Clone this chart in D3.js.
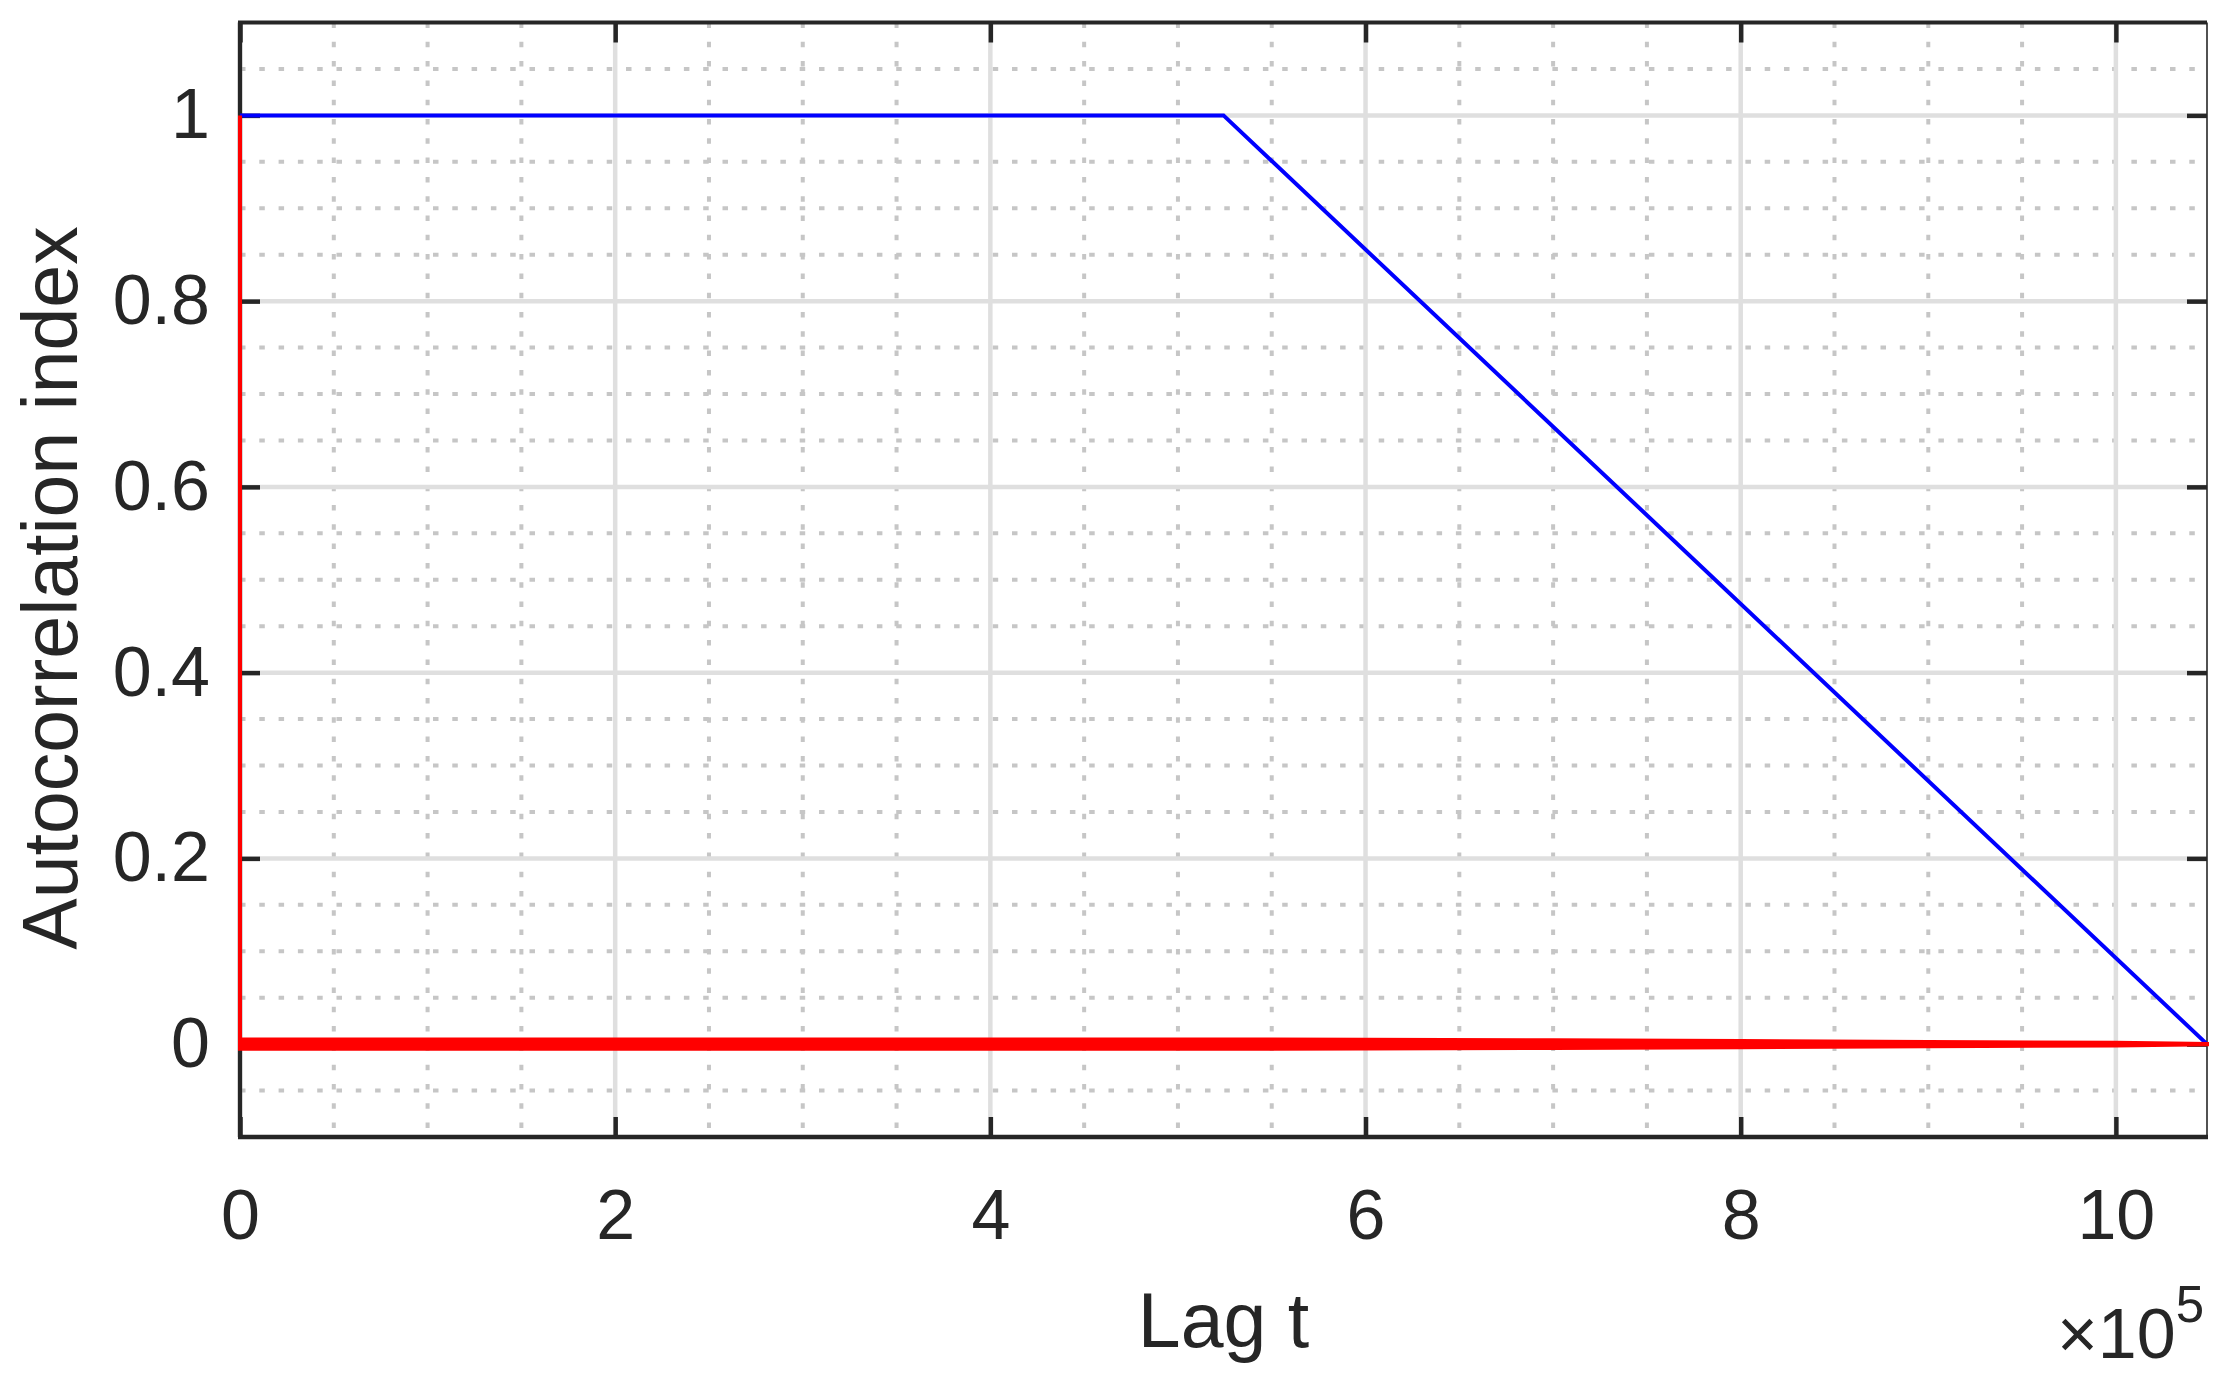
<!DOCTYPE html>
<html>
<head>
<meta charset="utf-8">
<script src="https://cdn.jsdelivr.net/npm/d3@7"></script>
<style>
  body { margin: 0; background: #fff; }
  text { font-family: "Liberation Sans", Arial, sans-serif; fill: #262626; }
</style>
</head>
<body>
<svg id="chart" width="2228" height="1377"></svg>
<script>
// Blue series: flat at 1 then straight fall to 0
var blueLag = [0, 524288, 1048576];
var blueAcf = [1, 1, 0];

// Red series: spike at lag 0, then noise around zero
var redSpikeLag = [0, 0, 3000];
var redSpikeAcf = [1, 0, 0];

// envelope of the red noise band
var noiseLag = [0, 100000, 200000, 300000, 400000, 500000, 600000, 700000, 800000, 900000, 1000000, 1048576];
var noiseHi = [0.005, 0.005, 0.005, 0.005, 0.005, 0.005, 0.0048, 0.0042, 0.0034, 0.0024, 0.0014, 0.0002];
var noiseLo = [-0.005, -0.005, -0.005, -0.005, -0.005, -0.005, -0.0048, -0.0042, -0.0034, -0.0024, -0.0014, -0.0002];

// tick labels
var xTicks = [0, 2, 4, 6, 8, 10];  // times 10^5
var yTicks = [0, 0.2, 0.4, 0.6, 0.8, 1];

var svg = d3.select('#chart');
var pLeft = 240, pRight = 2207, pTop = 22.5, pBottom = 1137;

var x = d3.scaleLinear().domain([0, 1048576]).range([pLeft, pRight]);
var y = d3.scaleLinear().domain([-0.1, 1.1]).range([pBottom, pTop]);

//Minor grid (dotted)
var xMinor = d3.range(0.5, 10.01, 0.5).filter(function(v) { return v % 2 !== 0; });
var yMinor = d3.range(-0.05, 1.06, 0.05).filter(function(v) {
  return Math.abs(Math.round(v * 5) - v * 5) > 0.01;
});

svg.append('g').selectAll('line').data(xMinor).enter().append('line')
  .attr('x1', function(d) { return x(d * 1e5); })
  .attr('x2', function(d) { return x(d * 1e5); })
  .attr('y1', pTop).attr('y2', pBottom)
  .attr('stroke', '#c6c6c6').attr('stroke-width', 4)
  .attr('stroke-dasharray', '5.5,13.8');

svg.append('g').selectAll('line').data(yMinor).enter().append('line')
  .attr('x1', pLeft).attr('x2', pRight)
  .attr('y1', function(d) { return y(d); })
  .attr('y2', function(d) { return y(d); })
  .attr('stroke', '#c6c6c6').attr('stroke-width', 4)
  .attr('stroke-dasharray', '5.5,13.8');

//Major grid
svg.append('g').selectAll('line').data(xTicks).enter().append('line')
  .attr('x1', function(d) { return x(d * 1e5); })
  .attr('x2', function(d) { return x(d * 1e5); })
  .attr('y1', pTop).attr('y2', pBottom)
  .attr('stroke', '#dfdfdf').attr('stroke-width', 4.5);

svg.append('g').selectAll('line').data(yTicks).enter().append('line')
  .attr('x1', pLeft).attr('x2', pRight)
  .attr('y1', function(d) { return y(d); })
  .attr('y2', function(d) { return y(d); })
  .attr('stroke', '#dfdfdf').attr('stroke-width', 4.5);

//Axes with inward ticks
var xVals = xTicks.map(function(v) { return v * 1e5; });

var gx = svg.append('g').attr('transform', 'translate(0,' + pBottom + ')')
  .call(d3.axisBottom(x).tickValues(xVals).tickSize(-20).tickPadding(52)
    .tickFormat(function(d) { return d / 1e5; }));
var gxTop = svg.append('g').attr('transform', 'translate(0,' + pTop + ')')
  .call(d3.axisTop(x).tickValues(xVals).tickSize(-20).tickFormat(''));
var gy = svg.append('g').attr('transform', 'translate(' + pLeft + ',0)')
  .call(d3.axisLeft(y).tickValues(yTicks).tickSize(-20).tickPadding(30)
    .tickFormat(function(d) { return d; }));
var gyRight = svg.append('g').attr('transform', 'translate(' + pRight + ',0)')
  .call(d3.axisRight(y).tickValues(yTicks).tickSize(-20).tickFormat(''));

[gx, gxTop, gy, gyRight].forEach(function(g) {
  g.select('.domain').remove();
  g.selectAll('.tick line').attr('stroke', '#262626').attr('stroke-width', 4.5);
  g.selectAll('.tick text').attr('font-size', 70).attr('fill', '#262626')
    .style('font-family', '"Liberation Sans", Arial, sans-serif');
});

//Box
svg.append('line').attr('x1', pLeft - 2).attr('x2', pRight).attr('y1', pTop).attr('y2', pTop)
  .attr('stroke', '#262626').attr('stroke-width', 4);
svg.append('line').attr('x1', pLeft - 2).attr('x2', pRight + 1).attr('y1', pBottom).attr('y2', pBottom)
  .attr('stroke', '#262626').attr('stroke-width', 4.3);
svg.append('line').attr('x1', pLeft).attr('x2', pLeft).attr('y1', pTop).attr('y2', pBottom)
  .attr('stroke', '#262626').attr('stroke-width', 4.3);
svg.append('line').attr('x1', pRight).attr('x2', pRight).attr('y1', pTop).attr('y2', pBottom)
  .attr('stroke', '#262626').attr('stroke-width', 1.6);

//Data lines
var line = d3.line().x(function(d) { return x(d[0]); }).y(function(d) { return y(d[1]); });

svg.append('path')
  .attr('d', line(d3.zip(blueLag, blueAcf)))
  .attr('fill', 'none').attr('stroke', '#0000ff').attr('stroke-width', 4);

var band = d3.area()
  .x(function(d) { return x(d[0]); })
  .y0(function(d) { return y(d[1]); })
  .y1(function(d) { return y(d[2]); });

svg.append('path')
  .attr('d', band(d3.zip(noiseLag, noiseLo, noiseHi)))
  .attr('fill', '#ff0000').attr('stroke', '#ff0000').attr('stroke-width', 4)
  .attr('stroke-linejoin', 'miter');

svg.append('path')
  .attr('d', line(d3.zip(redSpikeLag, redSpikeAcf)))
  .attr('fill', 'none').attr('stroke', '#ff0000').attr('stroke-width', 4);

//Labels
svg.append('text')
  .attr('x', (pLeft + pRight) / 2).attr('y', 1347)
  .attr('text-anchor', 'middle').attr('font-size', 77)
  .text('Lag t');

svg.append('text')
  .attr('transform', 'translate(77,588) rotate(-90)')
  .attr('text-anchor', 'middle').attr('font-size', 77)
  .text('Autocorrelation index');

var mult = svg.append('text')
  .attr('x', 2204).attr('y', 1358)
  .attr('text-anchor', 'end').attr('font-size', 70);
mult.append('tspan').text('\u00d710');
mult.append('tspan').attr('dy', -36).attr('font-size', 51).text('5');
</script>
</body>
</html>
